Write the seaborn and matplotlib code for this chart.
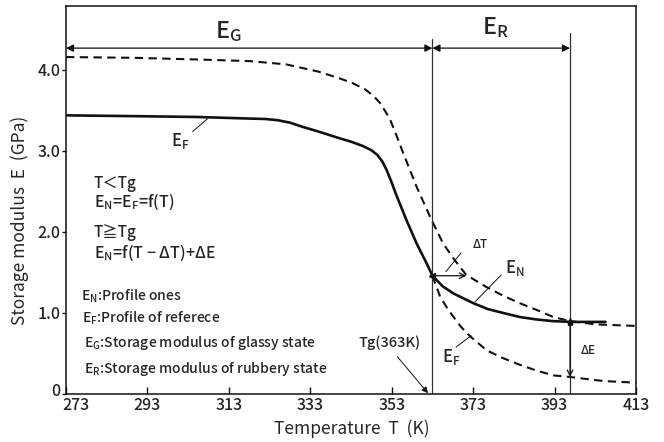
import matplotlib
matplotlib.use("Agg")
import matplotlib.pyplot as plt
import matplotlib.transforms as mtransforms
import seaborn as sns
import pandas as pd

# Reference profile E_F (solid below Tg)
ref_glassy_T = [273, 290, 305, 318.3, 322, 325, 328, 331, 335, 340, 343.3, 346, 348, 349.5, 350.7,
                351.8, 353, 354.1, 356.6, 359.1, 361.6, 363]
ref_glassy_E = [3.44, 3.43, 3.42, 3.40, 3.395, 3.38, 3.35, 3.30, 3.24, 3.16, 3.11, 3.06, 3.01, 2.95, 2.87,
                2.76, 2.61, 2.46, 2.15, 1.86, 1.61, 1.46]

# Reference profile E_F continued above Tg (dashed)
ref_rubbery_T = [363, 364.9, 366.5, 368.2, 370, 372.3, 376.3, 380, 384.5, 388.5, 392.7, 396.8, 405, 413]
ref_rubbery_E = [1.46, 1.20, 1.07, 0.95, 0.83, 0.71, 0.54, 0.45, 0.36, 0.29, 0.23, 0.21, 0.16, 0.14]

# New profile E_N above Tg (solid)
new_T = [363, 365.5, 368.2, 373.1, 376.5, 380.4, 384.5, 388.6, 392.5, 396.8, 401, 405.5]
new_E = [1.46, 1.33, 1.24, 1.12, 1.05, 1.00, 0.95, 0.92, 0.90, 0.89, 0.89, 0.89]

# Shifted profile (upper dashed)
shift_T = [273, 290, 305, 318, 327, 335, 340, 343.3, 346.5, 348.5, 350, 351.3, 352.5, 353.8, 355.7,
           359.1, 362.4, 365.6, 368.5, 371.3, 376.3, 380.5, 384.5, 388.5, 392.7, 396.8, 403, 413]
shift_E = [4.16, 4.15, 4.13, 4.11, 4.07, 3.98, 3.90, 3.84, 3.76, 3.68, 3.60, 3.50, 3.40, 3.24, 2.99,
           2.56, 2.19, 1.86, 1.65, 1.47, 1.32, 1.21, 1.12, 1.04, 0.95, 0.90, 0.86, 0.84]

Tg = 363
T_end = 396.8
delta_T_end = 371.3
E_at_Tg = 1.46
E_N_end = 0.89
E_F_end = 0.21

x_ticks = [273, 293, 313, 333, 353, 373, 393, 413]
y_ticks = [0, 1, 2, 3, 4]
y_tick_labels = ["0", "1.0", "2.0", "3.0", "4.0"]

sns.set_theme(style="ticks")
plt.rcParams["font.family"] = ["Noto Sans CJK JP", "DejaVu Sans"]
plt.rcParams["font.weight"] = "medium"
plt.rcParams["mathtext.default"] = "regular"
plt.rcParams["axes.unicode_minus"] = False

fig = plt.figure(figsize=(6.64, 4.42), dpi=100)
ax = fig.add_axes([66 / 664, 1 - 394 / 442, 570 / 664, 388 / 442])

k = "#111111"


def draw(T, E, dashed, lw):
    df = pd.DataFrame({"T": T, "E": E})
    sns.lineplot(data=df, x="T", y="E", ax=ax, color=k, lw=lw, sort=False, estimator=None)
    if dashed:
        ax.lines[-1].set_dashes((4, 2.6))


draw(ref_glassy_T, ref_glassy_E, False, 1.9)
draw(new_T, new_E, False, 1.9)
draw(ref_rubbery_T, ref_rubbery_E, True, 1.5)
draw(shift_T, shift_E, True, 1.5)

ax.set_xlim(273, 413)
ax.set_ylim(0, 4.79)
ax.set_xticks(x_ticks)
ax.set_xticklabels([str(t) for t in x_ticks])
ax.set_yticks(y_ticks)
ax.set_yticklabels(y_tick_labels)
ax.tick_params(axis="x", direction="in", length=5, width=1, labelsize=11.5, pad=2, color=k)
ax.tick_params(axis="y", direction="out", length=3, width=1, labelsize=11.5, pad=1, color=k)
for s in ax.spines.values():
    s.set_visible(True)
    s.set_linewidth(1.1)
    s.set_color(k)

# nudge the corner labels apart
fig.canvas.draw()
ax.get_xticklabels()[0].set_transform(
    ax.get_xticklabels()[0].get_transform() + mtransforms.ScaledTranslation(10 / 100, 0, fig.dpi_scale_trans))
ax.get_yticklabels()[0].set_transform(
    ax.get_yticklabels()[0].get_transform() + mtransforms.ScaledTranslation(0, 5 / 100, fig.dpi_scale_trans))

ax.set_xlabel("Temperature  T  (K)", fontsize=12.5)
ax.set_ylabel("Storage modulus  E  (GPa)", fontsize=12.5)
ax.xaxis.set_label_coords(0.502, -0.09)
ax.xaxis.label.set_va("center")
ax.yaxis.set_label_coords(-0.081, 0.448)
ax.yaxis.label.set_va("center")

# Region boundaries
ax.plot([Tg, Tg], [0, 4.38], color="#333333", lw=0.9)
ax.plot([T_end, T_end], [0, 4.46], color="#333333", lw=0.9)

arrow_kw = dict(arrowstyle="<|-|>", color=k, lw=0.9, mutation_scale=11, shrinkA=0, shrinkB=0)
ax.annotate("", xy=(273, 4.27), xytext=(Tg, 4.27), arrowprops=arrow_kw)
ax.annotate("", xy=(Tg, 4.27), xytext=(T_end, 4.27), arrowprops=arrow_kw)
ax.text(313, 4.47, "$E_G$", fontsize=17, ha="center", va="center")
ax.text(378.5, 4.53, "$E_R$", fontsize=17, ha="center", va="center")

# Shift arrows
ax.annotate("", xy=(delta_T_end, E_at_Tg), xytext=(Tg, E_at_Tg),
            arrowprops=dict(arrowstyle="->", color=k, lw=0.9, mutation_scale=10, shrinkA=0, shrinkB=0))
ax.annotate("", xy=(T_end, E_F_end), xytext=(T_end, E_N_end),
            arrowprops=dict(arrowstyle="->", color=k, lw=0.9, mutation_scale=10, shrinkA=0, shrinkB=0))
ax.plot([Tg], [E_at_Tg], marker="<", color=k, ms=5)
ax.plot([T_end], [E_N_end], marker="*", color=k, ms=6)

ax.text(374.7, 1.85, "ΔT", fontsize=8.5, ha="center", va="center")
ax.plot([366.3, 370], [1.51, 1.74], color=k, lw=0.7)
ax.text(401.2, 0.54, "ΔE", fontsize=8.5, ha="center", va="center")

# Curve labels with leaders
ax.text(301, 3.12, "$E_F$", fontsize=12, ha="center", va="center")
ax.plot([304.1, 307.8], [3.24, 3.40], color=k, lw=0.7)
ax.text(383.2, 1.55, "$E_N$", fontsize=12, ha="center", va="center")
ax.plot([373.5, 379.9], [1.14, 1.47], color=k, lw=0.7)
ax.text(367.6, 0.46, "$E_F$", fontsize=12, ha="center", va="center")
ax.plot([368.8, 372.5], [0.58, 0.72], color=k, lw=0.7)

ax.text(352.5, 0.63, "Tg(363K)", fontsize=10.5, ha="center", va="center")
ax.annotate("", xy=(361.9, 0.01), xytext=(354.4, 0.46),
            arrowprops=dict(arrowstyle="-|>", color=k, lw=0.7, mutation_scale=9, shrinkA=0, shrinkB=0))

# Relations and legend notes
ax.text(279.8, 2.60, "T＜Tg", fontsize=11, ha="left", va="center")
ax.text(279.8, 2.37, "$E_N$=$E_F$=f(T)", fontsize=11.5, ha="left", va="center")
ax.text(279.8, 1.99, "T≧Tg", fontsize=11, ha="left", va="center")
ax.text(279.8, 1.74, "$E_N$=f(T − ΔT)+ΔE", fontsize=11.5, ha="left", va="center")
ax.text(276.6, 1.21, "$E_N$:Profile ones", fontsize=10, ha="left", va="center")
ax.text(277.0, 0.93, "$E_F$:Profile of referece", fontsize=10, ha="left", va="center")
ax.text(277.5, 0.63, "$E_G$:Storage modulus of glassy state", fontsize=10, ha="left", va="center")
ax.text(277.5, 0.31, "$E_R$:Storage modulus of rubbery state", fontsize=10, ha="left", va="center")

fig.savefig("out.png", dpi=100)
